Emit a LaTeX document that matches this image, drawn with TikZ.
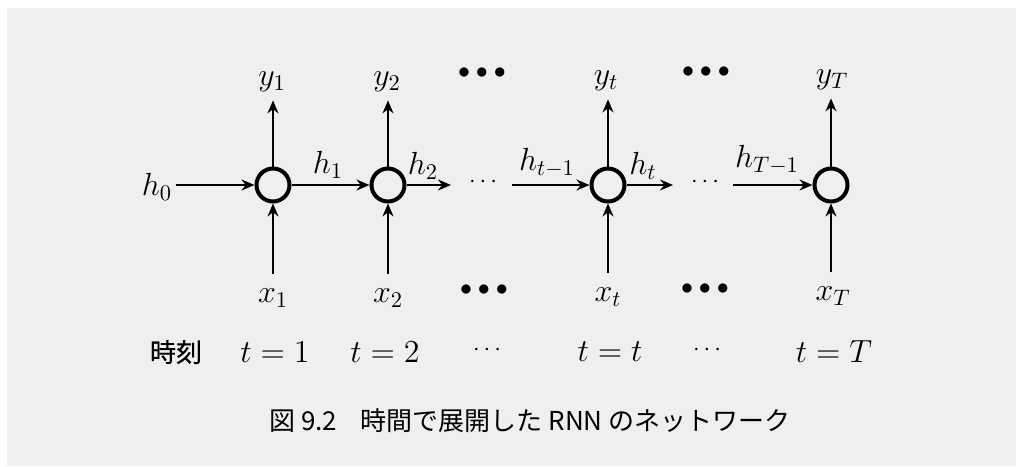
\RequirePackage{fix-cm}
\documentclass[tikz,border=0pt]{standalone}
\usepackage{fontspec}
\newfontfamily\cjk{Noto Sans CJK JP}
\newfontfamily\cjkheavy[FakeBold=0.5]{Noto Sans CJK JP}
\usetikzlibrary{arrows.meta}
\definecolor{paper}{RGB}{239,239,239}
\begin{document}
\begin{tikzpicture}[x=0.5pt,y=-0.5pt,
  cell/.style={circle,draw,line width=2pt,minimum size=16.5pt,inner sep=0pt},
  lab/.style={inner sep=0pt,font=\fontsize{16}{19}\selectfont},
  jp/.style={inner sep=0pt,font=\fontsize{13}{16}\selectfont\cjk},
  arr/.style={-{Stealth[length=6.5pt,width=5.5pt]},line width=0.9pt},
  bigdots/.style={inner sep=0pt,font=\fontsize{12}{14}\selectfont},
  smalldots/.style={inner sep=0pt,font=\fontsize{12}{14}\selectfont}]
\useasboundingbox (0,0) rectangle (1016,466);
\fill[white] (0,0) rectangle (1016,466);
\fill[paper] (7,8) rectangle (1016,466);
% cells
\node[cell] (c1) at (273,185) {};
\node[cell] (c2) at (388,185) {};
\node[cell] (ct) at (608,185) {};
\node[cell] (cT) at (831,185) {};
% outputs
\node[lab] (y1) at (272,82) {$y_1$};
\node[lab] (y2) at (387,82) {$y_2$};
\node[lab] (yt) at (606,81) {$y_t$};
\node[lab] (yT) at (832,80) {$y_T$};
% inputs
\node[lab] (x1) at (273,298) {$x_1$};
\node[lab] (x2) at (388,298) {$x_2$};
\node[lab] (xt) at (608,297) {$x_t$};
\node[lab] (xT) at (833,296) {$x_T$};
% hidden labels
\node[lab] (h0) at (157,187) {$h_0$};
\node[lab] (h1) at (328,165) {$h_1$};
\node[lab] (h2) at (423,166) {$h_2$};
\node[lab] (htm) at (547,163) {$h_{t-1}$};
\node[lab] (ht) at (643,166) {$h_t$};
\node[lab] (hTm) at (767,160) {$h_{T-1}$};
% free ends
\coordinate (e2) at (451,185);
\coordinate (stm) at (512,185);
\coordinate (et) at (673,185);
\coordinate (sTm) at (733,185);
% dots
\node[bigdots] (bu1) at (482,73) {$\mathord{\bullet}\mkern4.5mu\mathord{\bullet}\mkern4.5mu\mathord{\bullet}$};
\node[bigdots] (bu2) at (706,72) {$\mathord{\bullet}\mkern4.5mu\mathord{\bullet}\mkern4.5mu\mathord{\bullet}$};
\node[bigdots] (bd1) at (484,290) {$\mathord{\bullet}\mkern4.5mu\mathord{\bullet}\mkern4.5mu\mathord{\bullet}$};
\node[bigdots] (bd2) at (705,289) {$\mathord{\bullet}\mkern4.5mu\mathord{\bullet}\mkern4.5mu\mathord{\bullet}$};
\node[smalldots] (m1) at (483,182) {$\cdots$};
\node[smalldots] (m2) at (705,182) {$\cdots$};
% arrows
\draw[arr,shorten <=1.5pt] (h0.east |- c1.west) -- (c1);
\draw[arr] (c1) -- (c2);
\draw[arr] (c2) -- (e2);
\draw[arr] (stm) -- (ct);
\draw[arr] (ct) -- (et);
\draw[arr] (sTm) -- (cT);
\foreach \c/\y in {c1/y1,c2/y2,ct/yt,cT/yT}
  \draw[arr,shorten >=4pt] (\c) -- (\c |- \y.south);
\foreach \c/\x in {c1/x1,c2/x2,ct/xt,cT/xT}
  \draw[arr,shorten <=7pt] (\c |- \x.north) -- (\c);
% time row
\node[jp,font=\fontsize{13}{16}\selectfont\cjkheavy] (jikoku) at (176,352) {時刻};
\node[lab] (t1) at (275,352) {$t=1$};
\node[lab] (t2) at (385,352) {$t=2$};
\node[smalldots] (tm1) at (487,350) {$\cdots$};
\node[lab] (tt) at (610,352) {$t=t$};
\node[smalldots] (tm2) at (707,350) {$\cdots$};
\node[lab] (tT) at (834,352) {$t=T$};
% caption
\node[jp] (cap) at (530,421) {図 9.2\hspace{0.9em}時間で展開した RNN のネットワーク};
\end{tikzpicture}
\end{document}
